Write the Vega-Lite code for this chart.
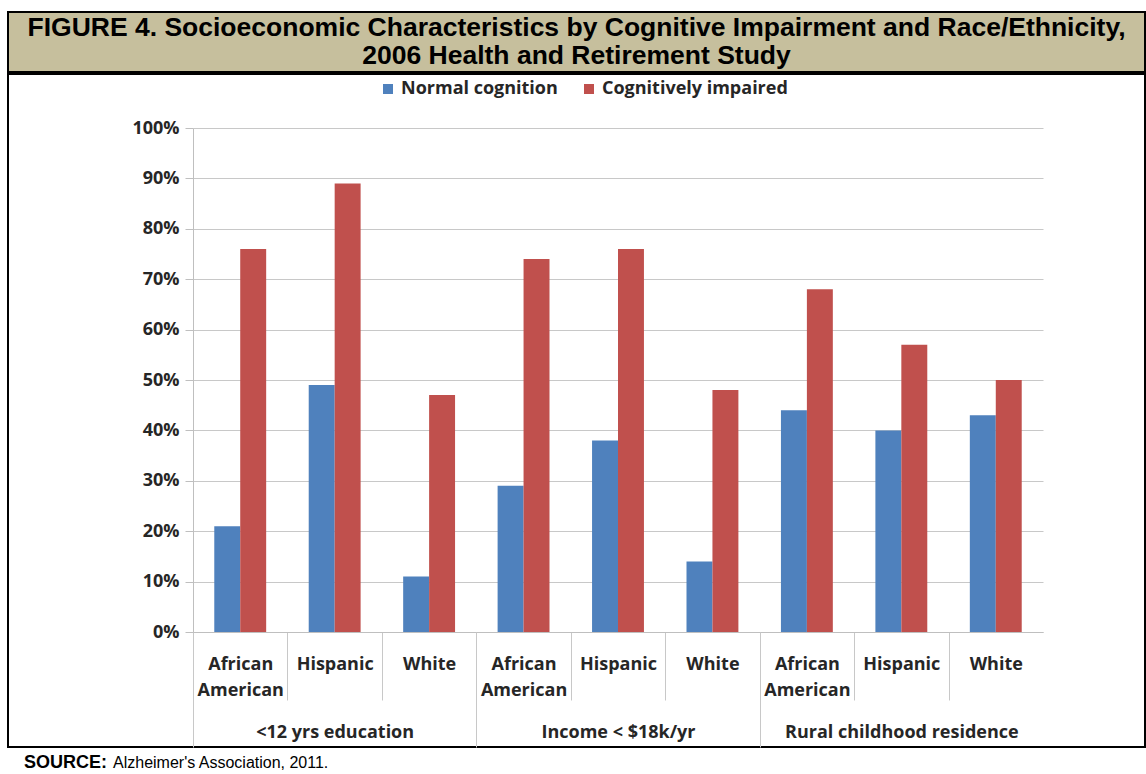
{
  "$schema": "https://vega.github.io/schema/vega-lite/v6.json",
  "padding": {"left": 7, "top": 11, "right": 0, "bottom": 0},
  "background": "white",
  "spacing": 0,
  "config": {"view": {"stroke": null}, "concat": {"spacing": 0}},
  "vconcat": [
    {
      "width": 1137,
      "height": 60,
      "view": {"fill": "#c6bf9d", "stroke": "black", "strokeWidth": 2},
      "data": {"values": [{"t": "FIGURE 4. Socioeconomic Characteristics by Cognitive Impairment and Race/Ethnicity,\n2006 Health and Retirement Study"}]},
      "mark": {"type": "text", "font": "Liberation Sans", "fontWeight": "bold", "fontSize": 26.5, "lineBreak": "\n", "lineHeight": 28, "dy": -14, "color": "black", "align": "center", "baseline": "middle"},
      "encoding": {"text": {"field": "t", "type": "nominal"}}
    },
    {
      "width": 1137,
      "height": 673,
      "view": {"stroke": "black", "strokeWidth": 2, "fill": "white"},
      "data": {"values": [
        {"g": "<12 yrs education", "c": "e1|African|American", "s": "Normal cognition", "v": 0.21},
        {"g": "<12 yrs education", "c": "e1|African|American", "s": "Cognitively impaired", "v": 0.76},
        {"g": "<12 yrs education", "c": "e2|Hispanic", "s": "Normal cognition", "v": 0.49},
        {"g": "<12 yrs education", "c": "e2|Hispanic", "s": "Cognitively impaired", "v": 0.89},
        {"g": "<12 yrs education", "c": "e3|White", "s": "Normal cognition", "v": 0.11},
        {"g": "<12 yrs education", "c": "e3|White", "s": "Cognitively impaired", "v": 0.47},
        {"g": "Income < $18k/yr", "c": "i1|African|American", "s": "Normal cognition", "v": 0.29},
        {"g": "Income < $18k/yr", "c": "i1|African|American", "s": "Cognitively impaired", "v": 0.74},
        {"g": "Income < $18k/yr", "c": "i2|Hispanic", "s": "Normal cognition", "v": 0.38},
        {"g": "Income < $18k/yr", "c": "i2|Hispanic", "s": "Cognitively impaired", "v": 0.76},
        {"g": "Income < $18k/yr", "c": "i3|White", "s": "Normal cognition", "v": 0.14},
        {"g": "Income < $18k/yr", "c": "i3|White", "s": "Cognitively impaired", "v": 0.48},
        {"g": "Rural childhood residence", "c": "r1|African|American", "s": "Normal cognition", "v": 0.44},
        {"g": "Rural childhood residence", "c": "r1|African|American", "s": "Cognitively impaired", "v": 0.68},
        {"g": "Rural childhood residence", "c": "r2|Hispanic", "s": "Normal cognition", "v": 0.40},
        {"g": "Rural childhood residence", "c": "r2|Hispanic", "s": "Cognitively impaired", "v": 0.57},
        {"g": "Rural childhood residence", "c": "r3|White", "s": "Normal cognition", "v": 0.43},
        {"g": "Rural childhood residence", "c": "r3|White", "s": "Cognitively impaired", "v": 0.50}
      ]},
      "layer": [
        {
          "mark": {"type": "bar"},
          "encoding": {
            "x": {
              "field": "c", "type": "nominal", "sort": null,
              "scale": {"range": [185, 1035], "paddingInner": 0, "paddingOuter": 0},
              "axis": {
                "orient": "bottom", "offset": -115, "title": null,
                "domainColor": "#bfbfbf", "domainWidth": 1,
                "tickBand": "extent", "tickSize": 68, "tickWidth": 1,
                "tickColor": {"condition": {"test": "datum.value === 'r3|White'", "value": "rgba(0,0,0,0)"}, "value": "#c8c8c8"},
                "labelExpr": "slice(split(datum.label, '|'), 1)",
                "labelPadding": -45, "labelFont": "Open Sans", "labelFontWeight": "bold",
                "labelFontSize": 18, "labelColor": "#262626", "labelLineHeight": 26,
                "labelAngle": 0, "labelBaseline": "top", "labelLimit": 300, "grid": false
              }
            },
            "xOffset": {
              "field": "s", "type": "nominal", "sort": null,
              "scale": {"domain": ["Normal cognition", "Cognitively impaired"], "paddingInner": 0, "paddingOuter": 0.82}
            },
            "y": {
              "field": "v", "type": "quantitative",
              "scale": {"domain": [0, 1], "range": [558, 54], "nice": false},
              "axis": {
                "orient": "left", "offset": -185, "title": null,
                "values": [0, 0.1, 0.2, 0.3, 0.4, 0.5, 0.6, 0.7, 0.8, 0.9, 1],
                "format": ".0%",
                "domainColor": "#bfbfbf", "tickColor": "#bfbfbf", "tickSize": 8,
                "labelPadding": 6, "labelFont": "Open Sans", "labelFontWeight": "bold",
                "labelFontSize": 18, "labelColor": "#262626",
                "grid": true, "gridColor": "#c8c8c8"
              }
            },
            "color": {
              "field": "s", "type": "nominal",
              "scale": {"domain": ["Normal cognition", "Cognitively impaired"], "range": ["#4f81bd", "#c0504d"]},
              "legend": {
                "orient": "none", "legendX": 371, "legendY": 68, "direction": "horizontal",
                "title": null, "symbolType": "square", "symbolSize": 100, "symbolStrokeWidth": 0,
                "labelFont": "Open Sans", "labelFontWeight": "bold", "labelFontSize": 18,
                "labelColor": "#262626", "columnPadding": 22, "labelOffset": 4, "labelLimit": 400
              }
            }
          }
        },
        {
          "mark": {"type": "text", "text": ""},
          "encoding": {
            "x": {
              "field": "g", "type": "nominal", "sort": null,
              "scale": {"range": [185, 1035], "paddingInner": 0, "paddingOuter": 0},
              "axis": {
                "orient": "bottom", "offset": -115, "title": null, "domain": false,
                "tickBand": "extent", "tickSize": 115, "tickWidth": 1,
                "tickColor": {"condition": {"test": "datum.value === 'Rural childhood residence'", "value": "rgba(0,0,0,0)"}, "value": "#c8c8c8"},
                "labelPadding": -24, "labelFont": "Open Sans", "labelFontWeight": "bold",
                "labelFontSize": 18, "labelColor": "#262626", "labelLimit": 400,
                "labelAngle": 0, "labelBaseline": "top", "grid": false
              }
            }
          }
        }
      ],
      "resolve": {"scale": {"x": "independent"}, "axis": {"x": "independent"}}
    },
    {
      "width": 1137,
      "height": 27,
      "data": {"values": [{"p": "SOURCE:", "b": 1}, {"p": "Alzheimer's Association, 2011.", "b": 0}]},
      "encoding": {
        "x": {"field": "p", "type": "nominal", "scale": {"type": "point", "domain": ["SOURCE:", "Alzheimer's Association, 2011."], "range": [16, 105], "padding": 0}, "axis": null},
        "text": {"field": "p", "type": "nominal"}
      },
      "layer": [
        {"transform": [{"filter": "datum.b == 1"}], "mark": {"type": "text", "align": "left", "baseline": "middle", "font": "Liberation Sans", "fontWeight": "bold", "fontSize": 18, "color": "black"}},
        {"transform": [{"filter": "datum.b == 0"}], "mark": {"type": "text", "align": "left", "baseline": "middle", "font": "Liberation Sans", "fontSize": 16, "color": "black"}}
      ]
    }
  ]
}
